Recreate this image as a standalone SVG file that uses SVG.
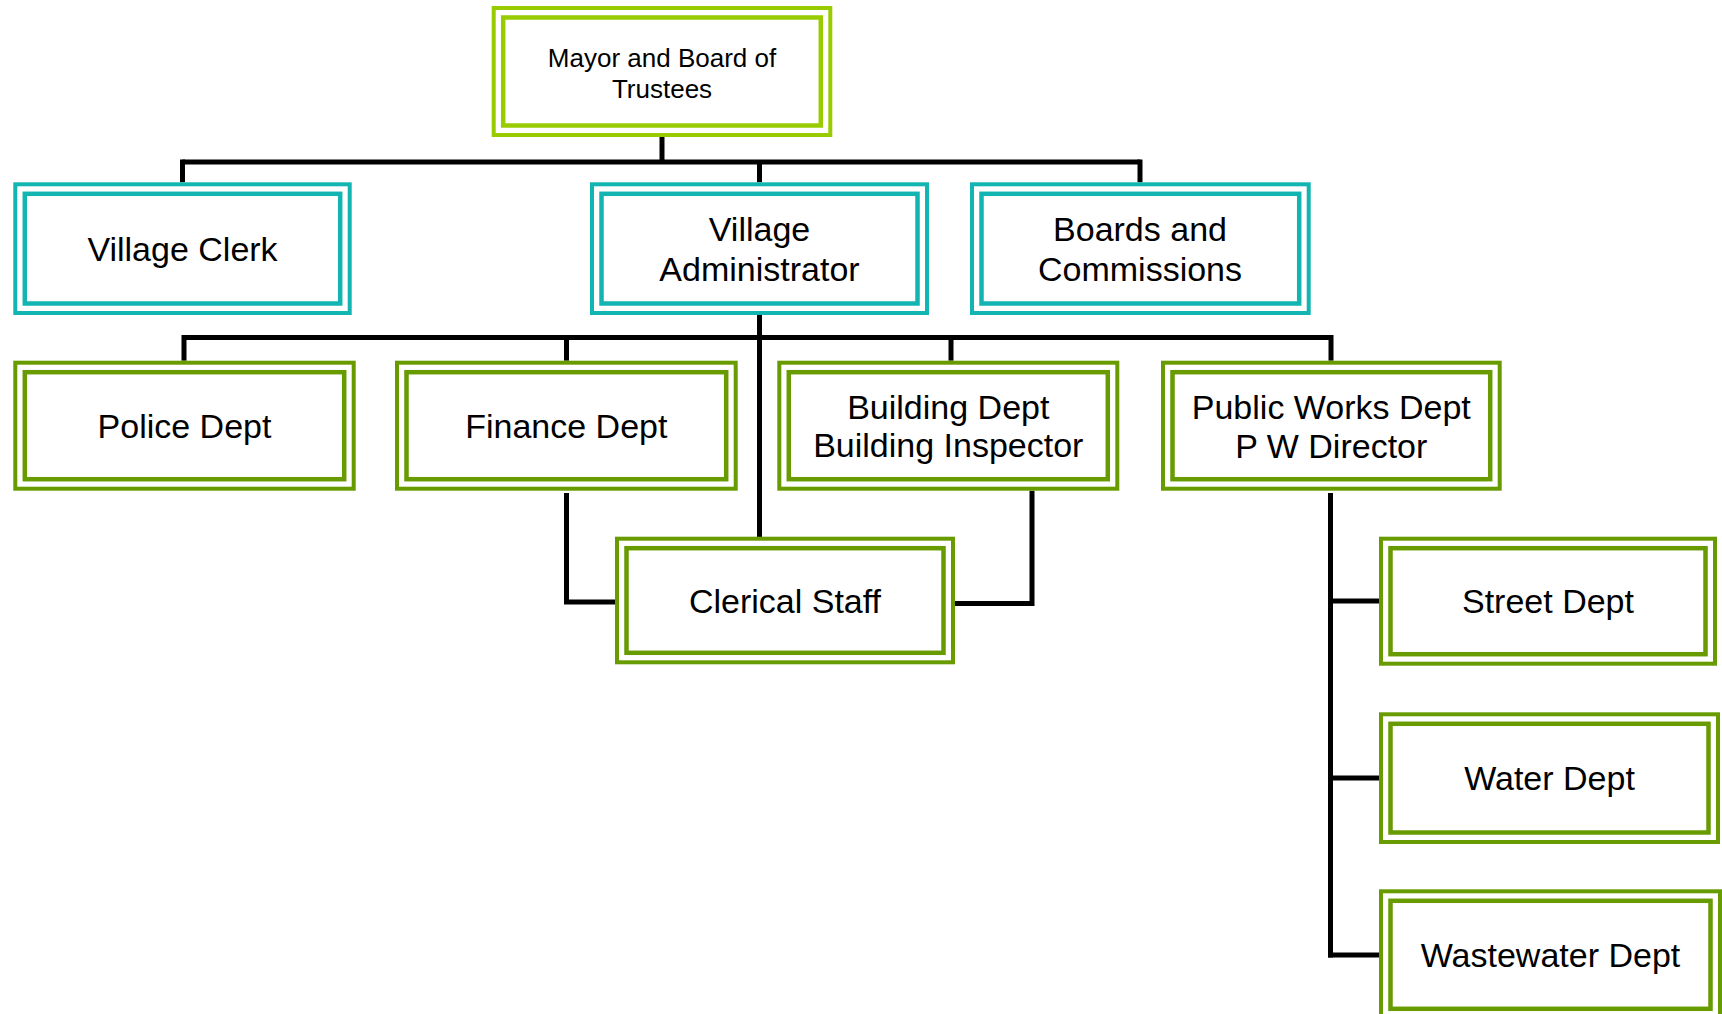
<svg xmlns="http://www.w3.org/2000/svg" width="1722" height="1014" viewBox="0 0 1722 1014">
<style>
  .o { fill: #ffffff; stroke-width: 4; }
  .i { fill: none; stroke-width: 4.5; }
  .lime { stroke: #99CC00; }
  .teal { stroke: #12B5B1; }
  .green { stroke: #679B00; }
  text { font-family: "Liberation Sans", Arial, sans-serif; fill: #000000; text-anchor: middle; }
  .big { font-size: 34px; }
  .small { font-size: 26px; }
  .conn { fill: none; stroke: #000000; stroke-width: 5; stroke-linejoin: miter; stroke-linecap: butt; }
</style>
<rect width="1722" height="1014" fill="#ffffff"/>

<g id="connectors" class="conn">
  <path d="M662 137 V162"/>
  <path d="M182.5 162 H1140"/>
  <path d="M182.5 159.5 V182.3"/>
  <path d="M759.5 162 V182.3"/>
  <path d="M1140 159.5 V182.3"/>
  <path d="M759.5 315 V537"/>
  <path d="M184 337.5 H1331"/>
  <path d="M184 335 V360.7"/>
  <path d="M566.5 337.5 V360.7"/>
  <path d="M951 337.5 V360.7"/>
  <path d="M1331 335 V360.7"/>
  <path d="M566.5 493 V602 H615"/>
  <path d="M1032 490.7 V603.5 H955"/>
  <path d="M1330.5 493 V957.5"/>
  <path d="M1328 601 H1379"/>
  <path d="M1328 778 H1379"/>
  <path d="M1328 955 H1379"/>
</g>

<g id="mayor">
  <rect class="o lime" x="493.7" y="8" width="336.6" height="127"/>
  <rect class="i lime" x="503.2" y="17.5" width="317.6" height="108"/>
  <text class="small" x="662" y="66.7">Mayor and Board of</text>
  <text class="small" x="662" y="97.7">Trustees</text>
</g>

<g id="village-clerk">
  <rect class="o teal" x="15.3" y="184.3" width="334.4" height="128.7"/>
  <rect class="i teal" x="24.8" y="193.8" width="315.4" height="109.7"/>
  <text class="big" x="182.5" y="261">Village Clerk</text>
</g>

<g id="village-administrator">
  <rect class="o teal" x="592" y="184.3" width="335" height="128.7"/>
  <rect class="i teal" x="601.5" y="193.8" width="316" height="109.7"/>
  <text class="big" x="759.5" y="241">Village</text>
  <text class="big" x="759.5" y="281">Administrator</text>
</g>

<g id="boards-commissions">
  <rect class="o teal" x="972" y="184.3" width="336.7" height="128.7"/>
  <rect class="i teal" x="981.5" y="193.8" width="317.7" height="109.7"/>
  <text class="big" x="1140" y="241">Boards and</text>
  <text class="big" x="1140" y="281">Commissions</text>
</g>

<g id="police-dept">
  <rect class="o green" x="15.3" y="362.7" width="338.4" height="126"/>
  <rect class="i green" x="24.8" y="372.2" width="319.4" height="107"/>
  <text class="big" x="184.5" y="438">Police Dept</text>
</g>

<g id="finance-dept">
  <rect class="o green" x="397" y="362.7" width="338.7" height="126"/>
  <rect class="i green" x="406.5" y="372.2" width="319.7" height="107"/>
  <text class="big" x="566.3" y="437.5">Finance Dept</text>
</g>

<g id="building-dept">
  <rect class="o green" x="779.3" y="362.7" width="338" height="126"/>
  <rect class="i green" x="788.8" y="372.2" width="319" height="107"/>
  <text class="big" x="948.3" y="418.5">Building Dept</text>
  <text class="big" x="948.3" y="457">Building Inspector</text>
</g>

<g id="public-works-dept">
  <rect class="o green" x="1163" y="362.7" width="336.7" height="126"/>
  <rect class="i green" x="1172.5" y="372.2" width="317.7" height="107"/>
  <text class="big" x="1331.3" y="419">Public Works Dept</text>
  <text class="big" x="1331.3" y="457.5">P W Director</text>
</g>

<g id="clerical-staff">
  <rect class="o green" x="617" y="538.7" width="336" height="123.6"/>
  <rect class="i green" x="626.5" y="548.2" width="317" height="104.6"/>
  <text class="big" x="785" y="612.7">Clerical Staff</text>
</g>

<g id="street-dept">
  <rect class="o green" x="1381" y="538.7" width="334" height="125"/>
  <rect class="i green" x="1390.5" y="548.2" width="315" height="106"/>
  <text class="big" x="1548" y="613.3">Street Dept</text>
</g>

<g id="water-dept">
  <rect class="o green" x="1381" y="714.3" width="337" height="127.7"/>
  <rect class="i green" x="1390.5" y="723.8" width="318" height="108.7"/>
  <text class="big" x="1549.5" y="790">Water Dept</text>
</g>

<g id="wastewater-dept">
  <rect class="o green" x="1381" y="891.3" width="339" height="127"/>
  <rect class="i green" x="1390.5" y="900.8" width="320" height="108"/>
  <text class="big" x="1550.5" y="967">Wastewater Dept</text>
</g>
</svg>
